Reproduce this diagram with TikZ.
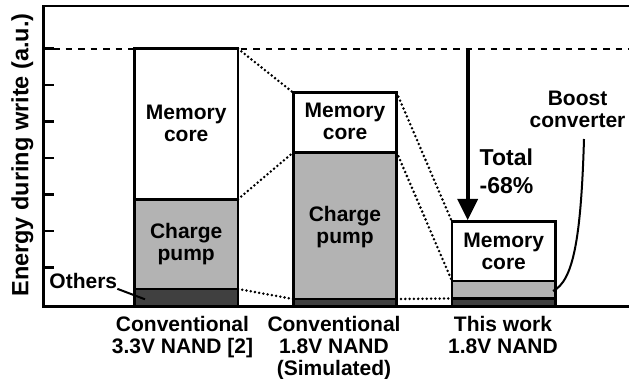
\documentclass[tikz,border=0pt]{standalone}
\usepackage{fontspec}
\setmainfont{Liberation Sans}
\usetikzlibrary{arrows.meta}
\definecolor{cpgray}{RGB}{179,179,179}
\definecolor{othdark}{RGB}{64,64,64}
\begin{document}
\begin{tikzpicture}[x=1pt,y=-1pt,
  lbl/.style={font=\bfseries\fontsize{21}{22}\selectfont, align=center, inner sep=0pt, anchor=north},
  seg/.style={draw=black, line width=2.8pt},
  frame/.style={line width=2.8pt, line join=miter},
  tick/.style={line width=2.6pt},
  dashline/.style={line width=2pt, dash pattern=on 6.5pt off 6pt},
  dotline/.style={line width=2.8pt, dash pattern=on 0pt off 4.3pt, line cap=round},
  leader/.style={line width=2pt},
  bigarrow/.style={line width=4pt, -{Triangle[width=21pt,length=21pt,line width=0pt]}}
]
\useasboundingbox (0,0) rectangle (629,379);

% reference coordinates
\coordinate (b1tl) at (134.3,48.7);  \coordinate (b1tr) at (238,48.7);
\coordinate (b1ml) at (134.3,199.3); \coordinate (b1mr) at (238,199.3);
\coordinate (b1ol) at (134.3,289);   \coordinate (b1or) at (238,289);
\coordinate (b1br) at (238,306.5);
\coordinate (b2tl) at (293.3,92.7);  \coordinate (b2tr) at (396.7,92.7);
\coordinate (b2ml) at (293.3,152.3); \coordinate (b2mr) at (396.7,152.3);
\coordinate (b2ol) at (293.3,299);   \coordinate (b2or) at (396.7,299);
\coordinate (b2br) at (396.7,306.5);
\coordinate (b3tl) at (452,221.7);   \coordinate (b3tr) at (555.3,221.7);
\coordinate (b3ml) at (452,281);     \coordinate (b3mr) at (555.3,281);
\coordinate (b3ol) at (452,298.5);   \coordinate (b3or) at (555.3,298.5);
\coordinate (b3br) at (555.3,306.5);

% dashed reference level
\draw[dashline] (53,48.7) -- (629,48.7);

% dotted guides
\draw[dotline] (b1tr) -- (b2tl);
\draw[dotline] (b1mr) -- (b2ml);
\draw[dotline] (b1or) -- (b2ol);
\draw[dotline] (b2tr) -- (b3tl);
\draw[dotline] (b2mr) -- (b3ml);
\draw[dotline] (b2or) -- (b3ol);

% bar 1
\draw[seg, fill=white] (b1tl) rectangle (b1mr);
\draw[seg, fill=cpgray] (b1ml) rectangle (b1or);
\draw[seg, fill=othdark] (b1ol) rectangle (b1br);
% bar 2
\draw[seg, fill=white] (b2tl) rectangle (b2mr);
\draw[seg, fill=cpgray] (b2ml) rectangle (b2or);
\draw[seg, fill=othdark] (b2ol) rectangle (b2br);
% bar 3
\draw[seg, fill=white] (b3tl) rectangle (b3mr);
\draw[seg, fill=cpgray] (b3ml) rectangle (b3or);
\draw[seg, fill=othdark] (b3ol) rectangle (b3br);

% frame
\draw[frame] (629,6) -- (43.5,6) -- (43.5,306.5) -- (629,306.5);
\foreach \yy in {48.7,85.2,121.7,158.2,194.7,231.2,267.7}
  \draw[tick] (43.5,\yy) -- (53.5,\yy);

% y label
\node[rotate=90, anchor=base, inner sep=0pt, font=\bfseries\fontsize{23.5}{24}\selectfont] (ylab) at (28.3,155) {Energy during write (a.u.)};

% bar labels
\node[lbl] (mem1) at (186.2,105) {Memory\\core};
\node[lbl] (cp1) at (186.2,223.3) {Charge\\pump};
\node[lbl] (mem2) at (345,103) {Memory\\core};
\node[lbl] (cp2) at (345,206) {Charge\\pump};
\node[lbl] (mem3) at (503.7,232.7) {Memory\\core};

% others
\node[lbl] (oth) at (83.3,273) {Others};
\coordinate (othpt) at (145,299.3);
\draw[leader] (oth.south east) -- (othpt);

% boost converter
\node[lbl] (boost) at (577.5,90.7) {Boost\\converter};
\coordinate (bstart) at (584,139);
\coordinate (bend) at (553,291);
\draw[leader] (bstart) .. controls (581,240) and (573,281) .. (bend);

% total arrow
\coordinate (astart) at (467.7,48.7);
\coordinate (aend) at (467.7,220);
\draw[bigarrow] (astart) -- (aend);
\node[font=\bfseries\fontsize{23}{28}\selectfont, align=left, inner sep=0pt, anchor=north west] (tot) at (479.5,148.3) {Total\\-68\%};

% x labels
\node[lbl] (x1) at (182.5,316.5) {Conventional\\3.3V NAND [2]};
\node[lbl] (x2) at (334,316.5) {Conventional\\1.8V NAND\\(Simulated)};
\node[lbl] (x3) at (503,316.5) {This work\\1.8V NAND};
\end{tikzpicture}
\end{document}
